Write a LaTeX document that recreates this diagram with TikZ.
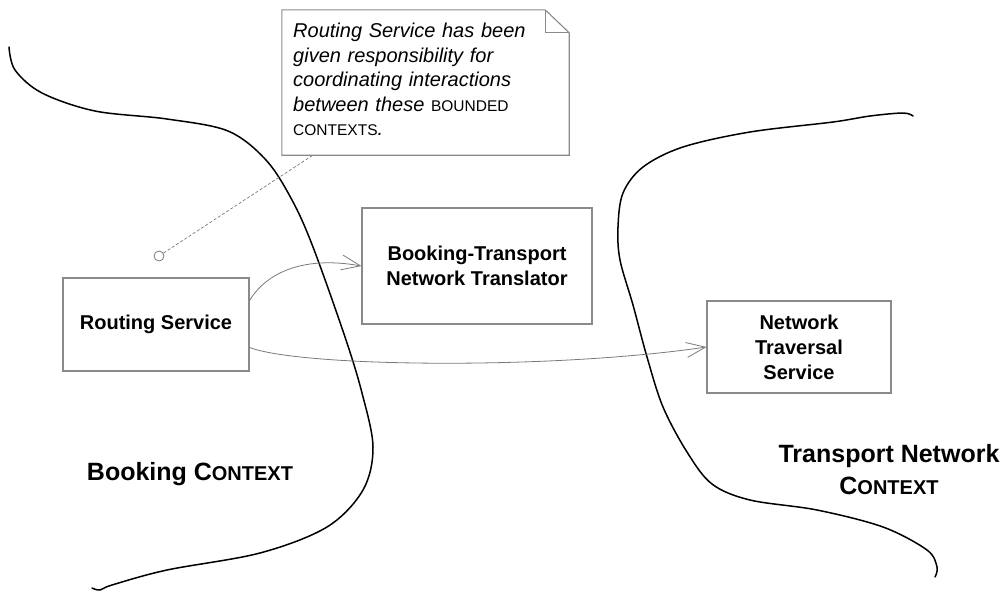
\documentclass[tikz,border=0pt]{standalone}
\usepackage{fontspec}
\setmainfont{Liberation Sans}
\usetikzlibrary{arrows.meta,calc}
\definecolor{boxgray}{HTML}{8A8A8A}
\definecolor{linegray}{HTML}{7A7A7A}
\newcommand{\ctxsc}[2]{#1{\fontsize{20}{20}\selectfont #2}}
\newcommand{\notesc}[1]{{\upshape\fontsize{15.5}{15.5}\selectfont #1}}
\begin{document}
\begin{tikzpicture}[x=1pt,y=-1pt,
  box/.style={draw=boxgray, line width=1.1pt, inner sep=0pt, align=center,
    font=\fontsize{20}{25}\selectfont\bfseries},
  boundary/.style={line width=1.5pt, black, line cap=round},
  flow/.style={draw=linegray, line width=0.8pt, -{Straight Barb[length=19pt,width=15pt]}},
  notelink/.style={draw=linegray, line width=0.7pt, dashed, dash pattern=on 3pt off 2pt},
  ctxlabel/.style={font=\fontsize{25}{32}\selectfont\bfseries, align=center, inner sep=0pt},
  notetext/.style={font=\fontsize{20}{24.5}\selectfont\itshape, align=left, inner sep=0pt, text width=270pt}]
\useasboundingbox (0,0) rectangle (1006,592);

% boundaries
\draw[boundary] plot[smooth, tension=0.55] coordinates {(9,47) (15,70) (42,93) (95,111) (167,119) (228,131) (266,160) (292,200) (313,247) (345,337) (362,393) (373,447) (363,490) (327,527) (260,553) (167,570) (112,585) (100,590) (92,588)};
\draw[boundary] plot[smooth, tension=0.55] coordinates {(913,116) (903,113) (870,116) (833,122) (750,132) (683,147) (643,167) (623,193) (618,227) (620,260) (633,305) (647,357) (663,407) (687,452) (712,484) (750,500) (817,510) (883,527) (927,550) (937,567) (935,577)};

% note
\node[minimum width=287pt, minimum height=145pt, inner sep=0pt] (note) at (425.5,82.5) {};
\draw[draw=boxgray, line width=1.1pt] (note.north west) -- ($(note.north east)+(-24,0)$) -- ($(note.north east)+(0,23)$) -- (note.south east) -- (note.south west) -- cycle;
\draw[draw=boxgray, line width=1.1pt] ($(note.north east)+(-24,0)$) -- ($(note.north east)+(-24,23)$) -- ($(note.north east)+(0,23)$);
\node[notetext, anchor=north west] (notetxt) at (293,23) {Routing Service has been\\given responsibility for\\coordinating interactions\\between these \notesc{BOUNDED}\\\notesc{CONTEXTS}.};

\node[circle, draw=linegray, line width=0.8pt, minimum size=10pt, inner sep=0pt] (anc) at (159,256) {};
\draw[notelink] (anc) -- ($(note.south west)!0.108!(note.south east)$);

% boxes
\node[box, minimum width=186pt, minimum height=93pt] (rs) at (156,324.5) {Routing Service};
\node[box, minimum width=230pt, minimum height=116pt] (bt) at (477,266) {Booking-Transport\\Network Translator};
\node[box, minimum width=184pt, minimum height=92pt] (nt) at (799,347) {Network\\Traversal\\Service};

% connectors
\draw[flow] ($(rs.north east)+(0,23)$) .. controls (265,275) and (300,255) .. (bt.west);
\draw[flow] ($(rs.north east)+(0,70)$) .. controls (300,367) and (550,370) .. (nt.west);

% labels
\node[ctxlabel, anchor=base] (bctx) at (190,480) {Booking \ctxsc{C}{ONTEXT}};
\node[ctxlabel] (tctx) at (889,470) {Transport Network\\\ctxsc{C}{ONTEXT}};
\end{tikzpicture}
\end{document}
